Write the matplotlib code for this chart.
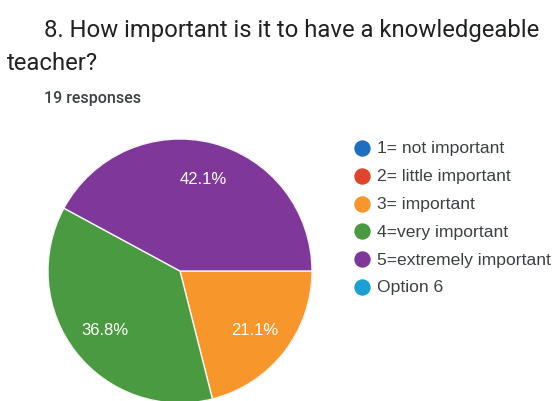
import matplotlib
matplotlib.use("Agg")
import matplotlib.pyplot as plt
from matplotlib.lines import Line2D

# Survey answers for question 8 (19 responses)
categories = ["1= not important", "2= little important", "3= important",
              "4=very important", "5=extremely important", "Option 6"]
counts = [0, 0, 4, 7, 8, 0]
colors = ["#1f6fc1", "#e0442a", "#f7962b", "#4a9a41", "#7f3899", "#1aa0d2"]

title_line1 = "8. How important is it to have a knowledgeable"
title_line2 = "teacher?"
subtitle = "19 responses"

W, H = 555, 402
fig = plt.figure(figsize=(W / 100, H / 100), dpi=100)
fig.patch.set_facecolor("white")


def px(x, y):
    return x / W, 1 - y / H


fig.text(*px(44, 30), title_line1, fontsize=17.2, family="Roboto",
         color="#202124", va="center", ha="left")
fig.text(*px(7, 63), title_line2, fontsize=17.2, family="Roboto",
         color="#202124", va="center", ha="left")
fig.text(*px(44, 99), subtitle, fontsize=11.5, family="Roboto",
         color="#3c4043", va="center", ha="left", weight="medium")

# Pie axes: centre (180, 272) px, radius 132 px
cx, cy, r = 180, 272, 132
ax = fig.add_axes([(cx - r) / W, 1 - (cy + r) / H, 2 * r / W, 2 * r / H])
ax.axis("off")

vals = [c for c in counts if c > 0]
cols = [col for c, col in zip(counts, colors) if c > 0]
wedges, texts, autotexts = ax.pie(
    vals, colors=cols, startangle=0, counterclock=False, radius=1,
    autopct="%1.1f%%", pctdistance=0.72,
    wedgeprops=dict(edgecolor="#f4f4f4", linewidth=1.0),
    textprops=dict(color="white", fontsize=12, family="Liberation Sans"),
    frame=False)
ax.set_xlim(-1, 1)
ax.set_ylim(-1, 1)
ax.set_aspect("auto")

# Legend with round markers
y0, dy = 149, 27.8
for i, (lab, col) in enumerate(zip(categories, colors)):
    y = y0 + i * dy
    fig.add_artist(Line2D([362 / W], [1 - y / H], marker="o", markersize=10.8,
                          color=col, linestyle="none",
                          transform=fig.transFigure))
    fig.text(*px(377, y), lab, fontsize=12.6, family="Liberation Sans",
             color="#3c4043", va="center", ha="left")

fig.savefig("out.png", dpi=100)
